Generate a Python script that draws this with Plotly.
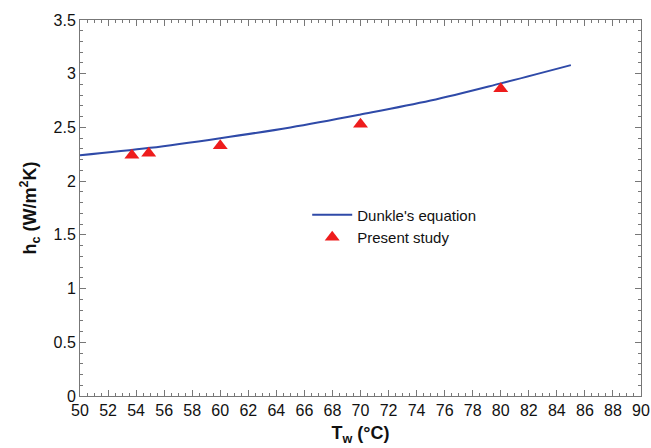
import plotly.graph_objects as go

# Dunkle's correlation curve (h_c vs water temperature)
dunkle_tw = [50, 55, 60, 65, 70, 75, 80, 85]
dunkle_hc = [2.24, 2.31, 2.40, 2.50, 2.62, 2.75, 2.91, 3.08]

# Measured convective heat transfer coefficients
study_tw = [53.7, 54.9, 60.0, 70.0, 80.0]
study_hc = [2.24, 2.26, 2.33, 2.53, 2.86]

x_ticks = list(range(50, 91, 2))
y_ticks = [0, 0.5, 1, 1.5, 2, 2.5, 3, 3.5]
y_tick_text = ["0", "0.5", "1", "1.5", "2", "2.5", "3", "3.5"]

FONT = "Liberation Sans, Arial, sans-serif"

fig = go.Figure()
fig.add_trace(go.Scatter(
    x=dunkle_tw, y=dunkle_hc, mode="lines", name="Dunkle's equation",
    line=dict(color="#2f4aa8", width=2, shape="spline"),
))
fig.add_trace(go.Scatter(
    x=study_tw, y=study_hc, mode="markers", name="Present study",
    marker=dict(symbol="triangle-up", size=13, color="#ee1c1c"),
))

axis_common = dict(
    showline=True, linecolor="#777777", linewidth=1, mirror="ticks",
    ticks="inside", tickcolor="#777777", ticklen=6, tickwidth=1,
    showgrid=False, zeroline=False, automargin=False,
    tickfont=dict(family=FONT, size=16, color="#111111"),
)

fig.update_xaxes(
    range=[50, 90], tickvals=x_ticks,
    minor=dict(dtick=0.5, ticks="inside", ticklen=3, tickcolor="#777777", showgrid=False),
    title=dict(text="<b>T<sub>w</sub> (°C)</b>", font=dict(family=FONT, size=18, color="#111111"), standoff=8),
    **axis_common,
)
fig.update_yaxes(
    range=[0, 3.5], tickvals=y_ticks, ticktext=y_tick_text,
    minor=dict(dtick=0.1, ticks="inside", ticklen=3, tickcolor="#777777", showgrid=False),
    title=dict(text="<b>h<sub>c</sub> (W/m<sup>2</sup>K)</b>", font=dict(family=FONT, size=18, color="#111111"), standoff=12),
    **axis_common,
)

fig.update_layout(
    width=651, height=448,
    margin=dict(l=80, r=10, t=20, b=52),
    paper_bgcolor="white", plot_bgcolor="white",
    showlegend=True,
    legend=dict(
        x=0.405, y=0.525, xanchor="left", yanchor="top",
        font=dict(family=FONT, size=15, color="#111111"),
        bgcolor="rgba(0,0,0,0)", tracegroupgap=2, itemwidth=40,
    ),
)

fig.write_html("out.html")
